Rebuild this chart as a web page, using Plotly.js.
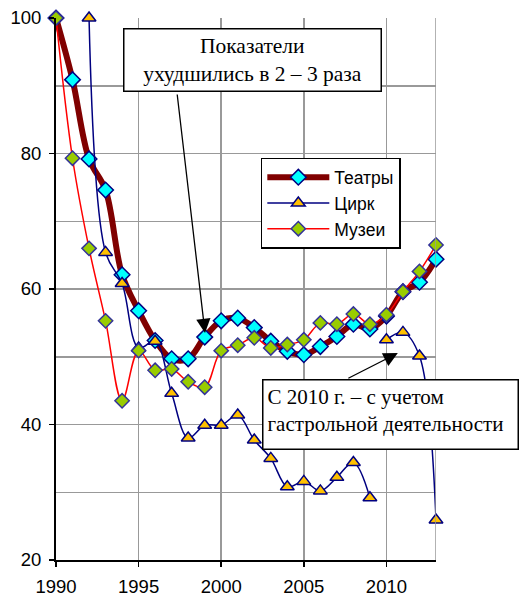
<!DOCTYPE html>
<html>
<head>
<meta charset="utf-8">
<script src="https://cdn.plot.ly/plotly-3.0.1.min.js"></script>
<style>html,body{margin:0;padding:0;background:#fff;}#chart{width:520px;height:597px;}</style>
</head>
<body>
<div id="chart"></div>
<script>
const years = [1990,1991,1992,1993,1994,1995,1996,1997,1998,1999,2000,2001,2002,2003,2004,2005,2006,2007,2008,2009,2010,2011,2012,2013];
const theatres = [100,90.9,79.2,74.6,62.1,56.8,52.4,49.7,49.7,52.9,55.3,55.7,54.3,52.3,50.8,50.3,51.5,53.0,54.8,54.1,56.0,59.6,61.0,64.4];
const circus = [null,null,100,65.4,60.8,51.3,52.3,44.6,38.0,39.9,39.9,41.4,37.7,35.0,30.8,31.6,30.2,32.2,34.4,29.2,null,null,null,null];
const circusTour = [null,null,null,null,null,null,null,null,null,null,null,null,null,null,null,null,null,null,null,null,52.5,53.6,50.1,25.9];
const museums = [100,79.3,66.0,55.3,43.5,50.9,48.0,48.2,46.3,45.5,50.9,51.7,52.8,51.3,51.8,52.5,55.0,54.8,56.3,54.8,56.2,59.6,62.6,66.5];
const seriesNames = ['Театры','Цирк','Музеи'];
const yTicks = [20,40,60,80,100];
const xTicks = [1990,1995,2000,2005,2010];

// circus: two segments (before 2010, and from 2010 with touring activity), gap in between
const circusAll = circus.map((v,i)=> v!==null ? v : circusTour[i]);
const cx = [], cy = [];
years.forEach((y,i)=>{
  if (y===2010) { cx.push(2009.5); cy.push(null); }
  cx.push(y); cy.push(circusAll[i]);
});

const sans = 'Liberation Sans, Arial, sans-serif';
const serif = 'Liberation Serif, Times New Roman, serif';

const traces = [
  {x: years, y: theatres, name: seriesNames[0], type:'scatter', mode:'lines+markers', cliponaxis:false,
   line:{color:'#800000', width:6, shape:'spline', smoothing:1},
   marker:{symbol:'diamond', size:12, color:'#00FFFF', line:{color:'#000080', width:1.5}}},
  {x: cx, y: cy, name: seriesNames[1], type:'scatter', mode:'lines+markers', connectgaps:false, cliponaxis:false,
   line:{color:'#000080', width:1.5, shape:'spline', smoothing:1},
   marker:{symbol:'triangle-up', size:12, color:'#FFC000', line:{color:'#000080', width:1.5}}},
  {x: years, y: museums, name: seriesNames[2], type:'scatter', mode:'lines+markers', cliponaxis:false,
   line:{color:'#FF0000', width:1.5, shape:'spline', smoothing:1},
   marker:{symbol:'diamond', size:11, color:'#99CC00', line:{color:'#333399', width:1.5}}}
];

const layout = {
  width:520, height:597,
  margin:{l:56, r:84, t:18, b:37},
  paper_bgcolor:'#fff', plot_bgcolor:'#fff',
  showlegend:true,
  font:{family:sans, color:'#000'},
  xaxis:{range:[1990,2013], tickvals:xTicks, ticktext:xTicks.map(String),
    showgrid:true, gridcolor:'#999', gridwidth:1.5, zeroline:false,
    showline:true, linecolor:'#000', linewidth:2, ticks:'outside', ticklen:5, tickwidth:1.5, tickcolor:'#000',
    tickfont:{family:sans, size:18.5}, ticklabelstandoff:4},
  yaxis:{range:[20,100], tickvals:yTicks, ticktext:yTicks.map(String),
    showgrid:true, gridcolor:'#999', gridwidth:1.5, zeroline:false,
    showline:true, linecolor:'#000', linewidth:2, ticks:'outside', ticklen:5, tickwidth:1.5, tickcolor:'#000',
    tickfont:{family:sans, size:18.5}, ticklabelstandoff:4,
    minor:{dtick:10, tick0:20, showgrid:true, gridcolor:'#999', gridwidth:1.5, ticks:''}},
  legend:{x:0.539, y:0.742, xanchor:'left', yanchor:'top', bgcolor:'#fff',
    bordercolor:'#000', borderwidth:1.5, font:{family:sans, size:17.5}, itemwidth:62,
    tracegroupgap:0},
  shapes:[
    {type:'line', xref:'x', yref:'paper', x0:2013, x1:2013, y0:0, y1:1, line:{color:'#999', width:1.5}}
  ],
  annotations:[
    {xref:'paper', yref:'paper', x:0.5184, y:0.9216, xanchor:'center', yanchor:'middle',
     text:'Показатели<br>ухудшились в 2 – 3 раза', showarrow:false,
     font:{family:serif, size:21.5, color:'#000'}, align:'center',
     bgcolor:'#fff', bordercolor:'#000', borderwidth:1.5, borderpad:1, width:254, height:59},
    {xref:'x', yref:'y', x:1999.02, y:53.5, ax:-28, ay:-240, text:'', showarrow:true,
     arrowhead:2, arrowsize:2.2, arrowwidth:1.3, arrowcolor:'#000'},
    {xref:'paper', yref:'paper', x:0.880, y:0.2685, xanchor:'center', yanchor:'middle',
     text:'С 2010 г. – с учетом<br>гастрольной деятельности', showarrow:false,
     font:{family:serif, size:21, color:'#000'}, align:'left', valign:'top',
     bgcolor:'#fff', bordercolor:'#000', borderwidth:1.5, borderpad:4, width:246, height:60},
    {xref:'x', yref:'y', x:2010.69, y:50.55, ax:-51, ay:26, text:'', showarrow:true,
     arrowhead:2, arrowsize:2.2, arrowwidth:1.3, arrowcolor:'#000'}
  ]
};

Plotly.newPlot('chart', traces, layout, {displayModeBar:false, staticPlot:true});
</script>
</body>
</html>
